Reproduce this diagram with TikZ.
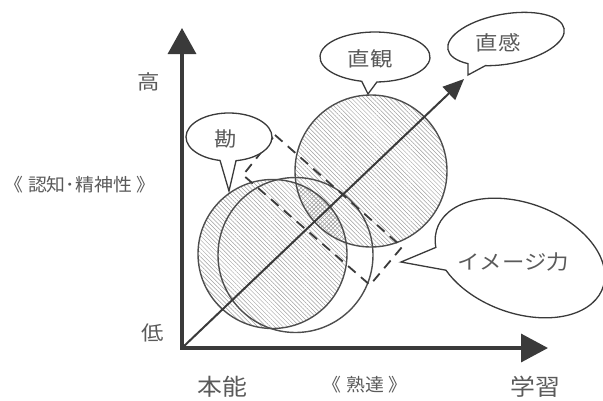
\documentclass[tikz,border=0pt]{standalone}
\usepackage{fontspec}
\newfontfamily\jp{Noto Sans CJK JP}
\usetikzlibrary{arrows.meta,patterns.meta}
\definecolor{txt}{HTML}{5A5A5A}
\definecolor{ink}{HTML}{3A3A3A}
\definecolor{hat}{HTML}{A0A0A0}
\begin{document}
\begin{tikzpicture}[x=1pt,y=-1pt,
  axis/.style={ink,line width=3.4pt},
  diagline/.style={ink,line width=2pt,-{Triangle[length=21pt,width=18pt]}},
  circ/.style={ink!90,line width=1.4pt},
  hatchfill/.style={pattern={Lines[angle=-45,distance=3pt,line width=0.5pt]},pattern color=hat},
  crossfill/.style={pattern={Lines[angle=45,distance=3pt,line width=0.5pt]},pattern color=hat},
  dashrect/.style={ink,line width=1.8pt,dash pattern=on 10pt off 7pt},
  bubble/.style={ink,line width=1.3pt,fill=white,line join=miter},
  lbl/.style={text=txt,inner sep=0pt,xscale=1.12,font=\jp\fontsize{20}{20}\selectfont},
  biglbl/.style={text=txt,inner sep=0pt,xscale=1.08,font=\jp\fontsize{23}{23}\selectfont},
  sidelbl/.style={text=txt,inner sep=0pt,xscale=1.05,font=\jp\fontsize{18}{18}\selectfont}]
\useasboundingbox (0,0) rectangle (603,400);
% key coordinates
\coordinate (O) at (182,348);
\coordinate (Ytip) at (182,28);
\coordinate (Xtip) at (548,348);
\coordinate (Dtip) at (464,79);
\coordinate (cA) at (272.5,254);
\coordinate (cB) at (295.5,255);
\coordinate (cC) at (371,171);
% hatched circles
\fill[white] (cA) circle[radius=74.5];
\fill[hatchfill] (cA) circle[radius=74.5];
\fill[white] (cC) circle[radius=76];
\fill[hatchfill] (cC) circle[radius=76];
\begin{scope}
  \clip (cA) circle[radius=74.5];
  \fill[hatchfill] (cC) circle[radius=76];
  \fill[crossfill] (cC) circle[radius=76];
\end{scope}
\draw[circ] (cA) circle[radius=74.5];
\draw[circ] (cB) circle[radius=77.5];
\draw[circ] (cC) circle[radius=76];
% dashed rectangle
\coordinate (rT) at (275,135);
\coordinate (rR) at (402,247);
\coordinate (rB) at (370,285);
\coordinate (rL) at (243,175);
\draw[dashrect] (rT) -- (rR) -- (rB) -- (rL) -- cycle;
% diagonal arrow
\draw[diagline] (O) -- (Dtip);
% axes
\draw[axis,{Triangle[length=26pt,width=28pt]}-{Triangle[length=27pt,width=28pt]}] (Ytip) -- (O) -- (Xtip);
% bubbles
\coordinate (tK) at (229,191);
\begin{scope}[shift={(229,137)}]
  \draw[bubble] (102:43 and 24) arc[start angle=102,end angle=440.6,x radius=43,y radius=24] -- (tK) -- cycle;
\end{scope}
\coordinate (tKan) at (368,94);
\begin{scope}[shift={(375,57)}]
  \draw[bubble] (104:55 and 25) arc[start angle=104,end angle=448,x radius=55,y radius=25] -- (tKan) -- cycle;
\end{scope}
\coordinate (tCho) at (468,75);
\begin{scope}[shift={(506,39)},rotate=10]
  \draw[bubble] (135:59 and 25) arc[start angle=135,end angle=475,x radius=59,y radius=25] -- (tCho) -- cycle;
\end{scope}
\coordinate (tIm) at (401,262);
\begin{scope}[shift={(520,258)},rotate=-20]
  \draw[bubble] (160:88 and 55) arc[start angle=160,end angle=498,x radius=88,y radius=55] -- (tIm) -- cycle;
\end{scope}
% bubble texts
\node[lbl] (kan) at (226,139) {勘};
\node[lbl] (chokkan1) at (370,59) {直観};
\node[lbl] (chokkan2) at (498,43) {直感};
\node[lbl] (image) at (513,262) {イメージ力};
% axis labels
\node[lbl] (high) at (149,82) {高};
\node[lbl] (low) at (153,333) {低};
\node[sidelbl] (ninchi) at (80,185) {《 認知･精神性 》};
\node[biglbl] (honno) at (222,387) {本能};
\node[sidelbl] (jukutatsu) at (365,385) {《 熟達 》};
\node[biglbl] (gakushu) at (535,387) {学習};
\end{tikzpicture}
\end{document}
